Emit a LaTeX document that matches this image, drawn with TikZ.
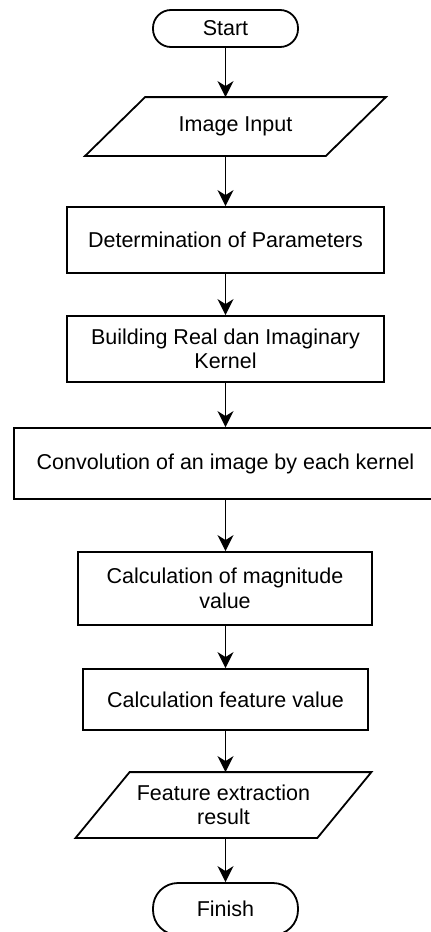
\documentclass[tikz,border=0pt]{standalone}
\usepackage{fontspec}
\setmainfont{Liberation Sans}
\usetikzlibrary{arrows.meta}
\usetikzlibrary{calc}

\begin{document}
\begin{tikzpicture}[x=1pt, y=-1pt, line width=1.8pt,
    >={Stealth[length=16pt,width=16pt,inset=5pt]},
    every node/.style={font=\fontsize{21.5}{24.6}\selectfont,
                       align=center, inner sep=0pt},
    term/.style 2 args={draw, rounded corners=18pt,
                        minimum width=#1, minimum height=#2},
    proc/.style 2 args={draw, minimum width=#1, minimum height=#2},
    io/.style 2 args={minimum width=#1, minimum height=#2}]

\def\MX{225.5}

\useasboundingbox (0,0) rectangle (431,932);
\fill[white] (0,0) rectangle (431,932);
\clip (0,0) rectangle (431,932);

\node[term={145pt}{37pt}] (start) at (\MX,28.5) {Start};
\node[io={239pt}{57pt}] (ii) at (235.5,126.5) {Image Input};
\node[proc={317pt}{66pt}] (param) at (\MX,240) {Determination of Parameters};
\node[proc={317pt}{66pt}] (kern) at (\MX,349)
    {Building Real dan Imaginary\\Kernel};
\node[proc={423pt}{71pt}] (conv) at (\MX,463.5)
    {Convolution of an image by each kernel};
\node[proc={294pt}{73pt}] (magn) at (225,588.5)
    {Calculation of magnitude\\value};
\node[proc={285pt}{61pt}] (feat) at (\MX,699.5) {Calculation feature value};
\node[io={240pt}{64pt}] (res) at (223.5,805) {Feature extraction\\result};
\node[term={145pt}{52pt}, rounded corners=25pt] (finish) at (\MX,909) {Finish};

% input / output boxes
\foreach \n/\s in {ii/30, res/27} {
    \draw ([xshift=\s pt]\n.north west) -- ([xshift=\s pt]\n.north east)
       -- ([xshift=-\s pt]\n.south east) -- ([xshift=-\s pt]\n.south west)
       -- cycle;
}

% flow
\foreach \a/\b in {start/ii, ii/param, param/kern, kern/conv,
                   conv/magn, magn/feat, feat/res, res/finish} {
    \draw[->] (\a.south -| start) -- (\b.north -| start);
}

\end{tikzpicture}
\end{document}
